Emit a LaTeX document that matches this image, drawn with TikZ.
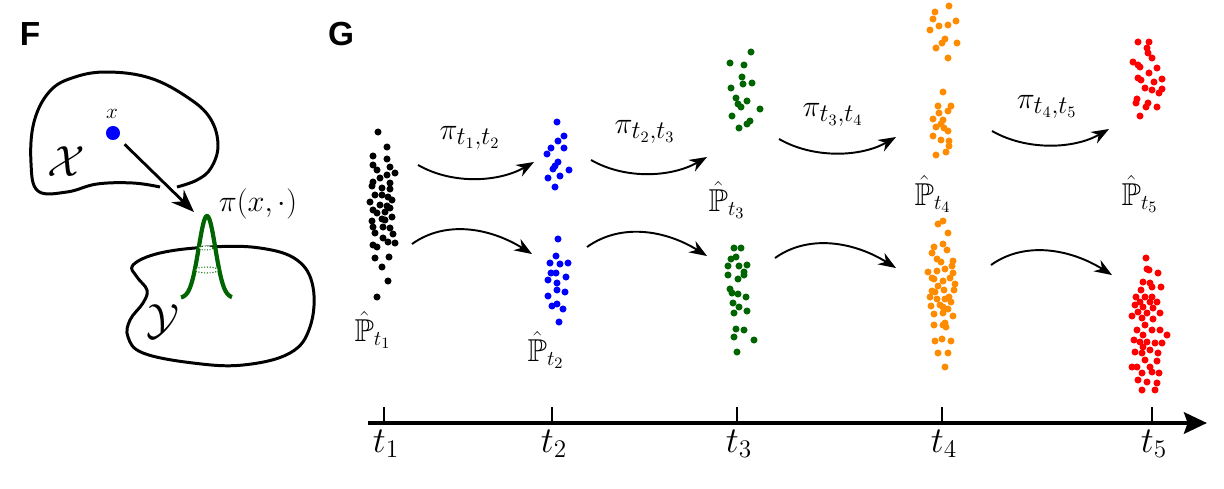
\documentclass[tikz,border=0pt]{standalone}
\usepackage{amssymb}
\usepackage{fontspec}
\newfontfamily\labfont{Liberation Sans}
\usetikzlibrary{arrows.meta}
\definecolor{dgreen}{RGB}{0,100,0}
\definecolor{dorange}{RGB}{255,140,0}
\tikzset{
  blob/.style={line width=1.7pt, line join=round},
  kern/.style={dgreen, line width=2.4pt},
  farr/.style={line width=1.6pt, -{Stealth[length=13pt,width=10pt]}},
  marr/.style={line width=1.1pt, -{Stealth[length=10pt,width=7.5pt]}},
  axisline/.style={line width=2.8pt, -{Stealth[length=13pt,width=12pt,inset=2pt]}},
  tick/.style={line width=1.1pt},
  panel/.style={font=\labfont\bfseries\fontsize{19}{22}\selectfont, inner sep=0pt},
  lab/.style={font=\fontsize{19}{22}\selectfont, inner sep=0pt},
  plab/.style={font=\fontsize{18}{21}\selectfont, inner sep=0pt},
  tlab/.style={font=\fontsize{20}{23}\selectfont, inner sep=0pt, anchor=base},
  callab/.style={font=\fontsize{26}{30}\selectfont, inner sep=0pt},
}
\newcommand{\cloud}[2]{\foreach \p in {#2} \fill[#1] \p circle[radius=2pt];}
\begin{document}
\begin{tikzpicture}[x=0.02cm,y=-0.02cm]
\useasboundingbox (0,0) rectangle (1224,488);

% ---------------- Panel F ----------------
\node[panel] (lF) at (30,34) {F};
\node[panel] (lG) at (341,34) {G};

% X blob (open, gap where arrow passes)
\draw[blob] plot[smooth, tension=0.65] coordinates {(160,187) (133,183) (97,184) (67,192) (38,191) (31,163) (34,122) (50,91) (75,77) (108,72) (150,78) (187,97) (210,118) (218,145) (211,168) (197,180) (177,187)};
% Y blob
\draw[blob] plot[smooth cycle, tension=0.65] coordinates {(133,265) (160,253) (210,247) (260,248) (297,260) (313,287) (310,327) (290,353) (243,365) (193,363) (143,353) (128,337) (130,320) (143,303) (147,290) (137,277)};

% kernel
\draw[kern] plot[domain=-26:25, samples=70, smooth] ({207+\x}, {298-82*exp(-(\x*\x)/140)});
\draw[dgreen, line width=0.5pt, densely dotted, fill=white] (206,248) ellipse[x radius=4pt, y radius=1.1pt];
\draw[dgreen, line width=0.6pt, densely dotted, fill=white] (207,270) ellipse[x radius=6.5pt, y radius=1.7pt];

\node[circle, fill=blue, minimum size=8pt, inner sep=0pt] (xdot) at (113,133) {};
\node[font=\fontsize{13}{15}\selectfont, inner sep=0pt] (lx) at (112,114) {$x$};
\coordinate (ftip) at (194,212);
\draw[farr, shorten <=5pt] (xdot) -- (ftip);

\node[callab] (lX) at (66,162) {$\mathcal{X}$};
\node[callab] (lY) at (163,322) {$\mathcal{Y}$};
\node[font=\fontsize{17}{20}\selectfont, inner sep=0pt] (lpi) at (258,204) {$\pi(x,\cdot)$};

% ---------------- Panel G ----------------
% point clouds
\cloud{black}{(378,132),(387,147),(373,156),(387,159),(373,165),(390,167),(377,170),(395,173),(387,175),(380,178),(373,182),(390,183),(372,186),(382,188),(390,189),(375,195),(382,195),(388,197),(392,200),(370,202),(380,205),(387,206),(373,210),(390,208),(385,212),(377,213),(392,217),(382,219),(372,221),(385,220),(373,227),(383,227),(390,228),(375,233),(393,234),(383,238),(388,242),(395,243),(373,245),(377,247),(375,258),(389,257),(382,267),(388,281),(377,297)}
\cloud{blue}{(557,122),(564,136),(558,141),(551,148),(564,148),(547,154),(558,162),(555,166),(553,169),(569,170),(548,178),(560,176),(555,187)}
\cloud{blue}{(558,239),(556,256),(550,263),(560,264),(568,263),(551,273),(556,273),(566,277),(548,280),(557,283),(557,290),(565,292),(548,296),(557,304),(552,306),(563,309),(559,322)}
\cloud{dgreen}{(751,52),(730,63),(744,65),(742,77),(743,84),(752,83),(731,88),(736,98),(747,101),(738,104),(741,107),(760,109),(732,116),(750,121),(747,124),(739,128)}
\cloud{dgreen}{(734,248),(741,248),(731,259),(736,257),(728,266),(739,266),(747,265),(728,275),(738,279),(744,275),(744,272),(730,289),(732,293),(738,294),(746,297),(733,303),(739,307),(747,311),(734,313),(736,329),(744,330),(734,337),(754,340),(737,352)}
\cloud{dorange}{(949,6),(935,12),(933,19),(939,26),(948,25),(956,21),(930,30),(945,39),(942,43),(957,43),(936,48),(948,58)}
\cloud{dorange}{(943,92),(938,106),(951,106),(948,111),(939,113),(933,119),(943,120),(941,124),(936,127),(944,128),(948,131),(933,136),(941,140),(949,141),(949,146),(946,152),(936,155)}
\cloud{dorange}{(943,221),(938,224),(948,233),(934,247),(943,244),(932,253),(947,250),(937,259),(941,262),(953,261),(952,266),(928,272),(937,271),(945,269),(953,273),(932,278),(934,279),(943,281),(950,278),(955,284),(938,286),(932,291),(935,292),(944,290),(954,290),(930,297),(937,299),(945,299),(949,297),(951,302),(940,305),(931,306),(943,307),(948,309),(934,314),(943,313),(953,316),(934,325),(943,325),(945,323),(946,327),(935,341),(942,339),(951,341),(938,353),(948,353),(945,367)}
\cloud{red}{(1138,42),(1149,42),(1147,48),(1148,53),(1152,58),(1133,62),(1138,65),(1140,67),(1157,68),(1149,73),(1138,78),(1141,80),(1162,79),(1154,82),(1145,88),(1152,90),(1162,89),(1159,93),(1137,99),(1136,103),(1148,103),(1146,107),(1157,107),(1140,116)}
\cloud{red}{(1146,258),(1147,269),(1149,270),(1158,273),(1143,282),(1150,283),(1152,287),(1161,287),(1141,290),(1136,297),(1145,297),(1152,297),(1140,302),(1150,302),(1157,302),(1135,305),(1143,307),(1153,308),(1138,312),(1147,313),(1160,313),(1132,316),(1142,318),(1153,319),(1145,325),(1137,330),(1152,330),(1160,330),(1143,335),(1167,335),(1134,340),(1140,342),(1147,342),(1155,343),(1162,343),(1143,347),(1135,352),(1150,350),(1142,353),(1158,353),(1145,360),(1157,361),(1137,367),(1150,367),(1132,367),(1142,373),(1152,372),(1159,373),(1138,380),(1147,382),(1157,383),(1142,390),(1155,390)}

% arrow end points
\coordinate (u1s) at (418,165); \coordinate (u1e) at (534,162);
\coordinate (l1s) at (412,244); \coordinate (l1e) at (532,254);
\coordinate (u2s) at (591,160); \coordinate (u2e) at (707,157);
\coordinate (l2s) at (587,247); \coordinate (l2e) at (707,256);
\coordinate (u3s) at (779,139); \coordinate (u3e) at (896,137);
\coordinate (l3s) at (775,258); \coordinate (l3e) at (896,268);
\coordinate (u4s) at (992,131); \coordinate (u4e) at (1109,129);
\coordinate (l4s) at (991,265); \coordinate (l4e) at (1112,275);

\draw[marr] (u1s) .. controls +(35,20) and +(-35,20) .. (u1e);
\draw[marr] (l1s) .. controls +(35,-25) and +(-40,-25) .. (l1e);
\draw[marr] (u2s) .. controls +(35,20) and +(-35,20) .. (u2e);
\draw[marr] (l2s) .. controls +(35,-25) and +(-40,-25) .. (l2e);
\draw[marr] (u3s) .. controls +(35,20) and +(-35,20) .. (u3e);
\draw[marr] (l3s) .. controls +(35,-25) and +(-40,-25) .. (l3e);
\draw[marr] (u4s) .. controls +(35,20) and +(-35,20) .. (u4e);
\draw[marr] (l4s) .. controls +(35,-25) and +(-40,-25) .. (l4e);

% transport labels
\node[lab] (pi12) at (470,138) {$\pi_{t_1,t_2}$};
\node[lab] (pi23) at (645,132) {$\pi_{t_2,t_3}$};
\node[lab] (pi34) at (833,115) {$\pi_{t_3,t_4}$};
\node[lab] (pi45) at (1047,107) {$\pi_{t_4,t_5}$};

% empirical measure labels
\node[plab] (P1) at (373,330) {$\hat{\mathbb{P}}_{t_1}$};
\node[plab] (P2) at (546,350) {$\hat{\mathbb{P}}_{t_2}$};
\node[plab] (P3) at (727,200) {$\hat{\mathbb{P}}_{t_3}$};
\node[plab] (P4) at (933,194) {$\hat{\mathbb{P}}_{t_4}$};
\node[plab] (P5) at (1140,194) {$\hat{\mathbb{P}}_{t_5}$};

% time axis
\coordinate (axs) at (368,423);
\coordinate (axe) at (1207,423);
\draw[axisline] (axs) -- (axe);
\foreach \i/\xx in {1/384,2/552,3/737,4/942,5/1152}{
  \coordinate (tk\i) at (\xx,423);
  \draw[tick] (tk\i) -- ++(0,-16);
  \node[tlab] (lt\i) at (\xx+2,452) {$t_{\i}$};
}
\end{tikzpicture}
\end{document}
